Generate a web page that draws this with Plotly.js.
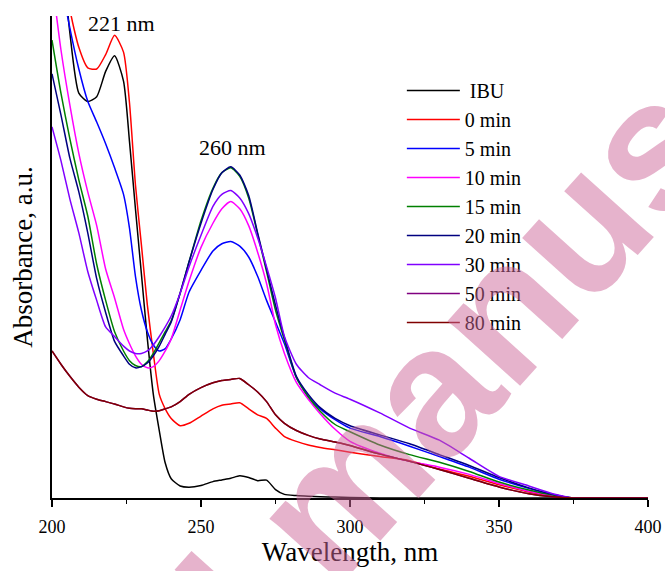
<!DOCTYPE html>
<html>
<head>
<meta charset="utf-8">
<script src="https://cdn.plot.ly/plotly-3.0.1.min.js"></script>
<style>html,body{margin:0;padding:0;background:#fff;}#chart{width:665px;height:571px;}</style>
</head>
<body>
<div id="chart"></div>
<script>
// Wavelength grid (nm)
var wavelength = [200,203,206,209,212,215,218,221,224,226,228,230,232,234,236,238,240,243,246,250,254,257,260,263,266,269,272,275,278,282,286,290,295,300,310,320,330,340,350,360,368,375,385,400];

// Absorbance (a.u.)
var ibu    = [3.2,2.35,1.93,1.68,1.645,1.665,1.77,1.835, 1.73,1.48,1.20,0.93,0.66,0.43,0.28,0.145,0.08, 0.05,0.045,0.052,0.068,0.075,0.082, 0.092,0.085,0.072,0.074,0.035,0.015, 0.01,0.007,0.005,0.004,0.002, 0,0,0,0,0,0,0,0,0,0];
var min0   = [3.0,2.45,2.03,1.87,1.785,1.78,1.84,1.92, 1.85,1.64,1.30,1.05,0.80,0.60,0.43,0.37,0.33, 0.30,0.31,0.34,0.37,0.385,0.39, 0.395,0.37,0.345,0.33,0.29,0.255, 0.235,0.22,0.21,0.20,0.19, 0.172,0.155,0.12,0.09,0.055,0.025,0.008,0,0,0];
var min5   = [2.45,2.15,1.95,1.78,1.646,1.56,1.47,1.37, 1.26,1.12,0.92,0.78,0.69,0.635,0.61,0.62,0.66, 0.74,0.855,0.945,1.025,1.055,1.064, 1.045,1.0,0.92,0.82,0.73,0.64, 0.50,0.42,0.37,0.325,0.29, 0.255,0.215,0.172,0.128,0.078,0.04,0.015,0,0,0];
var min10  = [2.15,1.86,1.63,1.43,1.27,1.13,0.95,0.83, 0.70,0.64,0.59,0.555,0.54,0.545,0.57,0.61,0.66, 0.78,0.90,1.04,1.14,1.20,1.23, 1.20,1.13,1.02,0.89,0.72,0.60, 0.48,0.41,0.35,0.285,0.235, 0.186,0.152,0.128,0.098,0.06,0.028,0.01,0,0,0];
var min15  = [1.90,1.68,1.49,1.32,1.17,0.97,0.82,0.69, 0.61,0.57,0.55,0.545,0.565,0.60,0.645,0.69,0.735, 0.85,0.98,1.15,1.285,1.35,1.37, 1.335,1.245,1.095,0.94,0.78,0.655, 0.50,0.42,0.36,0.305,0.275, 0.22,0.18,0.148,0.11,0.066,0.033,0.012,0,0,0];
var min20  = [1.76,1.59,1.41,1.27,1.10,0.91,0.77,0.65, 0.59,0.555,0.54,0.545,0.56,0.59,0.63,0.68,0.73, 0.85,0.98,1.14,1.28,1.35,1.374, 1.34,1.255,1.10,0.95,0.80,0.665, 0.505,0.43,0.375,0.33,0.30, 0.262,0.225,0.18,0.135,0.085,0.042,0.015,0,0,0];
var min30  = [1.54,1.40,1.24,1.10,0.94,0.82,0.71,0.67, 0.63,0.61,0.60,0.60,0.61,0.635,0.67,0.71,0.755, 0.85,0.96,1.09,1.21,1.26,1.276, 1.245,1.18,1.08,0.96,0.83,0.67, 0.555,0.50,0.47,0.435,0.41, 0.353,0.29,0.24,0.165,0.09,0.05,0.018,0,0,0];
var min50  = [0.61,0.555,0.505,0.46,0.425,0.41,0.40,0.39, 0.378,0.372,0.37,0.37,0.365,0.36,0.362,0.37,0.378, 0.40,0.43,0.458,0.478,0.488,0.492, 0.496,0.47,0.44,0.40,0.345,0.31, 0.28,0.26,0.245,0.232,0.218, 0.182,0.152,0.118,0.082,0.046,0.018,0.005,0,0,0];
var min80  = [0.61,0.555,0.505,0.46,0.425,0.41,0.40,0.39, 0.378,0.372,0.37,0.37,0.365,0.36,0.362,0.37,0.378, 0.40,0.43,0.458,0.478,0.488,0.492, 0.496,0.47,0.44,0.40,0.345,0.31, 0.28,0.26,0.245,0.232,0.218, 0.182,0.152,0.118,0.082,0.046,0.018,0.005,0,0,0];

var seriesNames  = ["\u00a0IBU","0 min","5 min","10 min","15 min","20 min","30 min","50 min","80 min"];
var seriesValues = [ibu, min0, min5, min10, min15, min20, min30, min50, min80];
var seriesColors = ["#000000","#FF0000","#0000FF","#FF00FF","#008000","#000080","#8000FF","#800080","#800000"];

var xTicks = [200,250,300,350,400];

var traces = seriesValues.map(function(vals, i){
  return {
    type: "scatter", mode: "lines",
    x: wavelength, y: vals, name: seriesNames[i],
    line: {color: seriesColors[i], width: 1.5, shape: "spline", smoothing: 0.6}
  };
});

var serif = "Liberation Serif";

var layout = {
  width: 665, height: 571,
  margin: {l: 52, r: 17, t: 16, b: 73},
  paper_bgcolor: "#ffffff", plot_bgcolor: "#ffffff",
  showlegend: true,
  legend: {
    x: 0.587, y: 0.886, xanchor: "left", yanchor: "top",
    font: {family: serif, size: 20, color: "#000"},
    itemwidth: 53, bgcolor: "rgba(0,0,0,0)", tracegroupgap: 0
  },
  xaxis: {
    range: [200, 400], tickvals: xTicks, ticktext: xTicks.map(String),
    showline: true, linecolor: "#000", linewidth: 2,
    ticks: "outside", ticklen: 7, tickwidth: 1.5, tickcolor: "#000",
    minor: {ticks: "outside", ticklen: 4, tickwidth: 1.5, tickcolor: "#000", dtick: 25, tick0: 200},
    showgrid: false, zeroline: false,
    tickfont: {family: serif, size: 18, color: "#000"},
    ticklabelstandoff: 4,
    title: {text: "Wavelength, nm", font: {family: serif, size: 27, color: "#000"}, standoff: 6}
  },
  yaxis: {
    range: [0, 2.0],
    showline: true, linecolor: "#000", linewidth: 2,
    ticks: "", showticklabels: false, showgrid: false, zeroline: false,
    title: {text: "Absorbance, a.u.", font: {family: serif, size: 27, color: "#000"}, standoff: 10}
  },
  annotations: [
    {x: 223.4, y: 1.97, xref: "x", yref: "y", text: "221 nm", showarrow: false,
     font: {family: serif, size: 22, color: "#000"}},
    {x: 260.5, y: 1.456, xref: "x", yref: "y", text: "260 nm", showarrow: false,
     font: {family: serif, size: 22, color: "#000"}},
    {x: 0.456, y: -0.021, xref: "paper", yref: "paper", text: "Accepted manuscript", showarrow: false,
     textangle: -48, xanchor: "center", yanchor: "middle",
     font: {family: "Liberation Sans", size: 184, weight: "bold", color: "rgba(205,103,153,0.5)"}}
  ]
};

Plotly.newPlot("chart", traces, layout, {staticPlot: true, displayModeBar: false});
</script>
</body>
</html>
